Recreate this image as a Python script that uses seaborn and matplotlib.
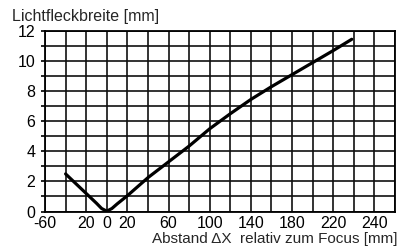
import matplotlib
matplotlib.use("Agg")
import matplotlib.pyplot as plt
import seaborn as sns
import pandas as pd

# Abstand zum Fokus [mm] und Lichtfleckbreite [mm]
abstand = [-40, -30, -20, -10, -5, 0, 5, 10, 20, 30, 40, 60, 80, 100, 120, 140, 160, 180, 200, 220, 238]
breite = [2.5, 1.85, 1.2, 0.55, 0.2, 0.02, 0.2, 0.5, 1.05, 1.65, 2.25, 3.3, 4.35, 5.5, 6.5, 7.45, 8.3, 9.1, 9.9, 10.7, 11.45]

# Beschriftung der x-Achse wie im Original
xtick_pos = [-60, -20, 0, 20, 60, 100, 140, 180, 220, 260]
xtick_lab = ['-60', '20', '0', '20', '60', '100', '140', '180', '220', '240']
ytick_lab = ['0', '2', '4', '6', '8', '10', '12']

df = pd.DataFrame({'x': abstand, 'y': breite})

sns.set_style("white")
plt.rcParams['font.family'] = ['Liberation Sans', 'DejaVu Sans']

fig = plt.figure(figsize=(4.09, 2.48), dpi=100)
ax = fig.add_axes([45 / 409, 1 - 211.5 / 248, 350 / 409, 180.5 / 248])

# Gitter: alle 20 mm und alle 1 mm
for gx in range(-60, 281, 20):
    ax.axvline(gx, color='#111111', lw=1.2, zorder=1)
for gy in range(0, 13):
    ax.axhline(gy, color='#111111', lw=1.2, zorder=1)

sns.lineplot(data=df, x='x', y='y', ax=ax, color='black', lw=2.3, zorder=3)
ax.lines[-1].set_solid_joinstyle('round')

ax.set_xlim(-60, 280)
ax.set_ylim(0, 12)
ax.set_xticks(xtick_pos)
ax.set_xticklabels(xtick_lab)
ax.set_yticks(range(0, 13, 2))
ax.set_yticklabels(ytick_lab)
ax.set_yticks(range(1, 13, 2), minor=True)
ax.tick_params(axis='x', length=0, pad=3, labelsize=11.5, colors='black')
ax.tick_params(axis='y', which='both', length=3, width=1.2, direction='out',
               left=True, pad=4, labelsize=11.5, colors='black')
for s in ax.spines.values():
    s.set_color('black')
    s.set_linewidth(1.3)
ax.set_xlabel('')
ax.set_ylabel('')

fig.text(12 / 409, 1 - 16 / 248, 'Lichtfleckbreite [mm]', fontsize=11.5, ha='left', va='center')
fig.text(398 / 409, 1 - 239.5 / 248, 'Abstand \u0394X  relativ zum Focus [mm]', fontsize=11,
         ha='right', va='center')

fig.savefig('out.png', dpi=100)
